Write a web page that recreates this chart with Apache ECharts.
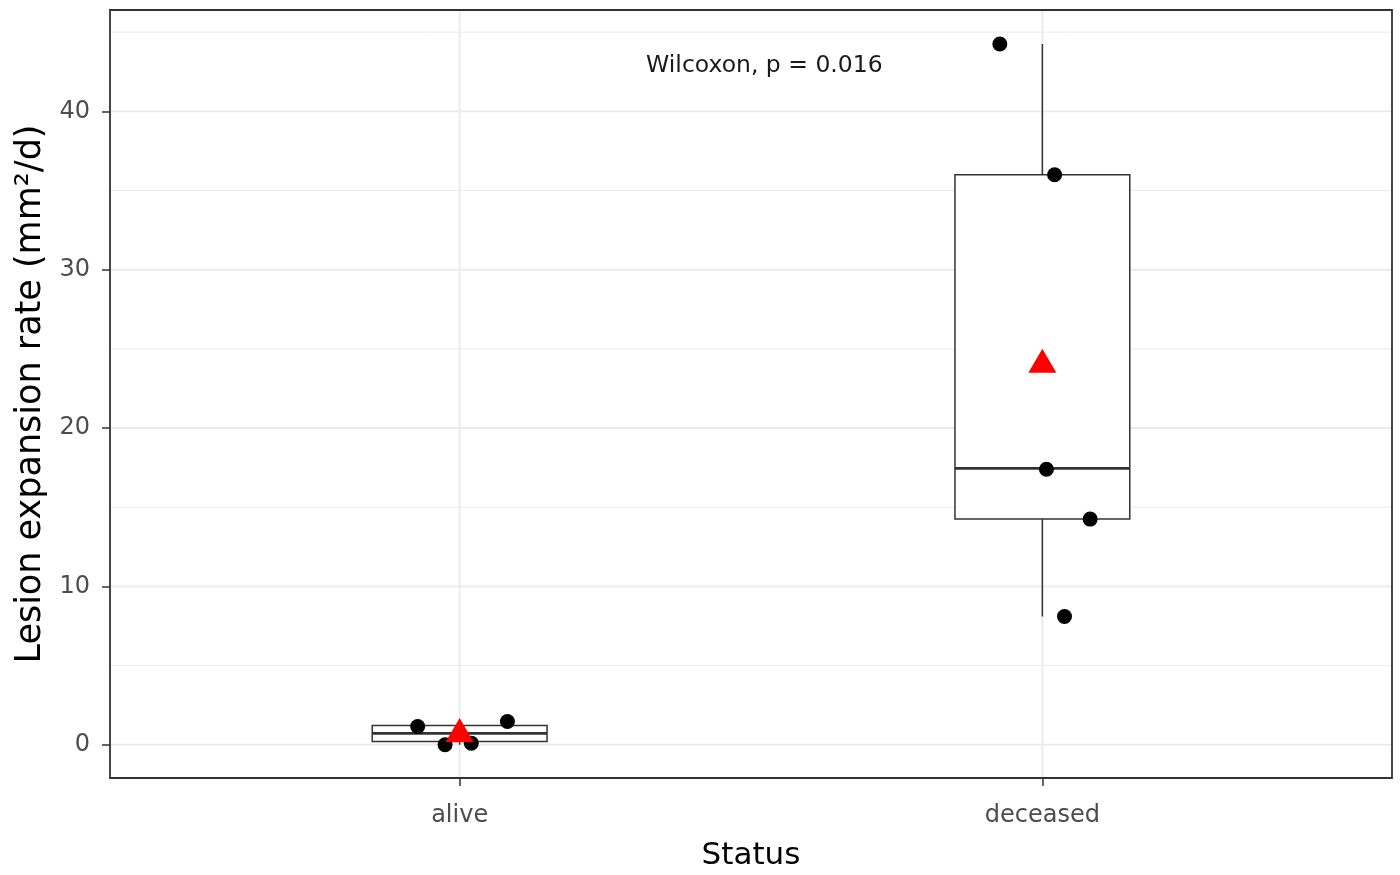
<!DOCTYPE html>
<html><head><meta charset="utf-8">
<script src="https://cdn.jsdelivr.net/npm/echarts@6/dist/echarts.min.js"></script>
<style>html,body{margin:0;padding:0;background:#fff}#c{width:1400px;height:875px}</style>
</head><body><div id="c"></div>
<script>
// ---- data ----
const categories = ['alive', 'deceased'];
const aliveValues = [1.15, 0.0, 0.1, 1.47];
const aliveJitter = [0.928, 0.975, 1.020, 1.082];
const deceasedValues = [44.25, 36.0, 17.4, 14.25, 8.1];
const deceasedJitter = [1.927, 2.021, 2.007, 2.082, 2.038];
// box statistics: [lower whisker, Q1, median, Q3, upper whisker]
const aliveBox = [0.0, 0.2, 0.72, 1.22, 1.47];
const deceasedBox = [8.1, 14.25, 17.45, 36.0, 44.25];
const yTicks = [0, 10, 20, 30, 40];
const yMinorTicks = [5, 15, 25, 35, 45];
const annotationText = 'Wilcoxon, p = 0.016';
const annotationPos = [1.32, 42.86];

// ---- layout constants ----
const X_MIN = 0.4, X_MAX = 2.6, Y_MIN = -2.1, Y_MAX = 46.4;
const FONT = 'DejaVu Sans';
const mean = a => a.reduce((s, v) => s + v, 0) / a.length;

const boxData = [[1].concat(aliveBox), [2].concat(deceasedBox)];
const pointData = aliveValues.map((v, i) => [aliveJitter[i], v])
  .concat(deceasedValues.map((v, i) => [deceasedJitter[i], v]));
const meanData = [[1, mean(aliveValues)], [2, mean(deceasedValues)]];

const chart = echarts.init(document.getElementById('c'), null, {renderer: 'canvas'});
chart.setOption({
  animation: false,
  backgroundColor: '#ffffff',
  grid: {left: 110, top: 10, right: 8, bottom: 97, show: false, containLabel: false, outerBoundsMode: 'none'},
  xAxis: {
    type: 'value', min: X_MIN, max: X_MAX,
    name: 'Status', nameLocation: 'middle', nameGap: 62,
    nameTextStyle: {fontFamily: FONT, fontSize: 31, color: '#000'},
    axisLine: {show: false, onZero: false},
    axisTick: {show: true, customValues: [1, 2], length: 8, lineStyle: {color: '#333', width: 1.5}},
    axisLabel: {customValues: [1, 2], margin: 26, fontFamily: FONT, fontSize: 24, color: '#4d4d4d',
      formatter: v => categories[Math.round(v) - 1] || ''},
    splitLine: {show: false}
  },
  yAxis: {
    type: 'value', min: Y_MIN, max: Y_MAX,
    name: 'Lesion expansion rate (mm²/d)', nameLocation: 'middle', nameGap: 59,
    nameTextStyle: {fontFamily: FONT, fontSize: 35, color: '#000'},
    axisLine: {show: false, onZero: false},
    axisTick: {show: true, customValues: yTicks, length: 8, lineStyle: {color: '#333', width: 1.5}},
    axisLabel: {customValues: yTicks, margin: 20, fontFamily: FONT, fontSize: 24, color: '#4d4d4d'},
    splitLine: {show: false}
  },
  series: [
    { // panel gridlines + border
      type: 'custom', z: 1, silent: true,
      data: [[1, 0]],
      renderItem: function (params, api) {
        const ch = [];
        const hl = (v, w) => {
          const a = api.coord([X_MIN, v]), b = api.coord([X_MAX, v]);
          ch.push({type: 'line', shape: {x1: a[0], y1: a[1], x2: b[0], y2: b[1]}, style: {stroke: '#ebebeb', lineWidth: w}});
        };
        yMinorTicks.forEach(v => hl(v, 1));
        yTicks.forEach(v => hl(v, 2));
        [1, 2].forEach(v => {
          const a = api.coord([v, Y_MIN]), b = api.coord([v, Y_MAX]);
          ch.push({type: 'line', shape: {x1: a[0], y1: a[1], x2: b[0], y2: b[1]}, style: {stroke: '#ebebeb', lineWidth: 2}});
        });
        const tl = api.coord([X_MIN, Y_MAX]), br = api.coord([X_MAX, Y_MIN]);
        ch.push({type: 'rect', shape: {x: tl[0], y: tl[1], width: br[0] - tl[0], height: br[1] - tl[1]},
          style: {fill: null, stroke: '#333333', lineWidth: 1.8}});
        return {type: 'group', children: ch};
      }
    },
    { // boxplots
      type: 'custom', z: 3, silent: true,
      encode: {x: 0, y: [1, 2, 3, 4, 5]},
      data: boxData,
      renderItem: function (params, api) {
        const x = api.value(0), mn = api.value(1), q1 = api.value(2), md = api.value(3), q3 = api.value(4), mx = api.value(5);
        const hw = 0.15;
        const tl = api.coord([x - hw, q3]), br = api.coord([x + hw, q1]);
        const ml = api.coord([x - hw, md]), mr = api.coord([x + hw, md]);
        const top = api.coord([x, mx]), qt = api.coord([x, q3]), qb = api.coord([x, q1]), bot = api.coord([x, mn]);
        const st = {stroke: '#333333', lineWidth: 1.5};
        return {type: 'group', children: [
          {type: 'line', shape: {x1: top[0], y1: top[1], x2: qt[0], y2: qt[1]}, style: st},
          {type: 'line', shape: {x1: qb[0], y1: qb[1], x2: bot[0], y2: bot[1]}, style: st},
          {type: 'rect', shape: {x: tl[0], y: tl[1], width: br[0] - tl[0], height: br[1] - tl[1]},
            style: {fill: '#ffffff', stroke: '#333333', lineWidth: 1.5}},
          {type: 'line', shape: {x1: ml[0], y1: ml[1], x2: mr[0], y2: mr[1]}, style: {stroke: '#333333', lineWidth: 2.8}}
        ]};
      }
    },
    { // jittered points
      type: 'scatter', z: 4, silent: true,
      data: pointData, symbol: 'circle', symbolSize: 15,
      itemStyle: {color: '#000000', opacity: 1}
    },
    { // means
      type: 'scatter', z: 5, silent: true,
      data: meanData, symbol: 'triangle', symbolSize: [28, 24], symbolOffset: [0, -4],
      itemStyle: {color: '#ff0000', opacity: 1}
    },
    { // annotation
      type: 'custom', z: 6, silent: true,
      data: [annotationPos],
      renderItem: function (params, api) {
        const p = api.coord([api.value(0), api.value(1)]);
        return {type: 'text', x: p[0], y: p[1],
          style: {text: annotationText, fontFamily: FONT, fontSize: 23.5, fill: '#1a1a1a', align: 'left', verticalAlign: 'middle'}};
      }
    }
  ]
});
</script>
</body></html>
